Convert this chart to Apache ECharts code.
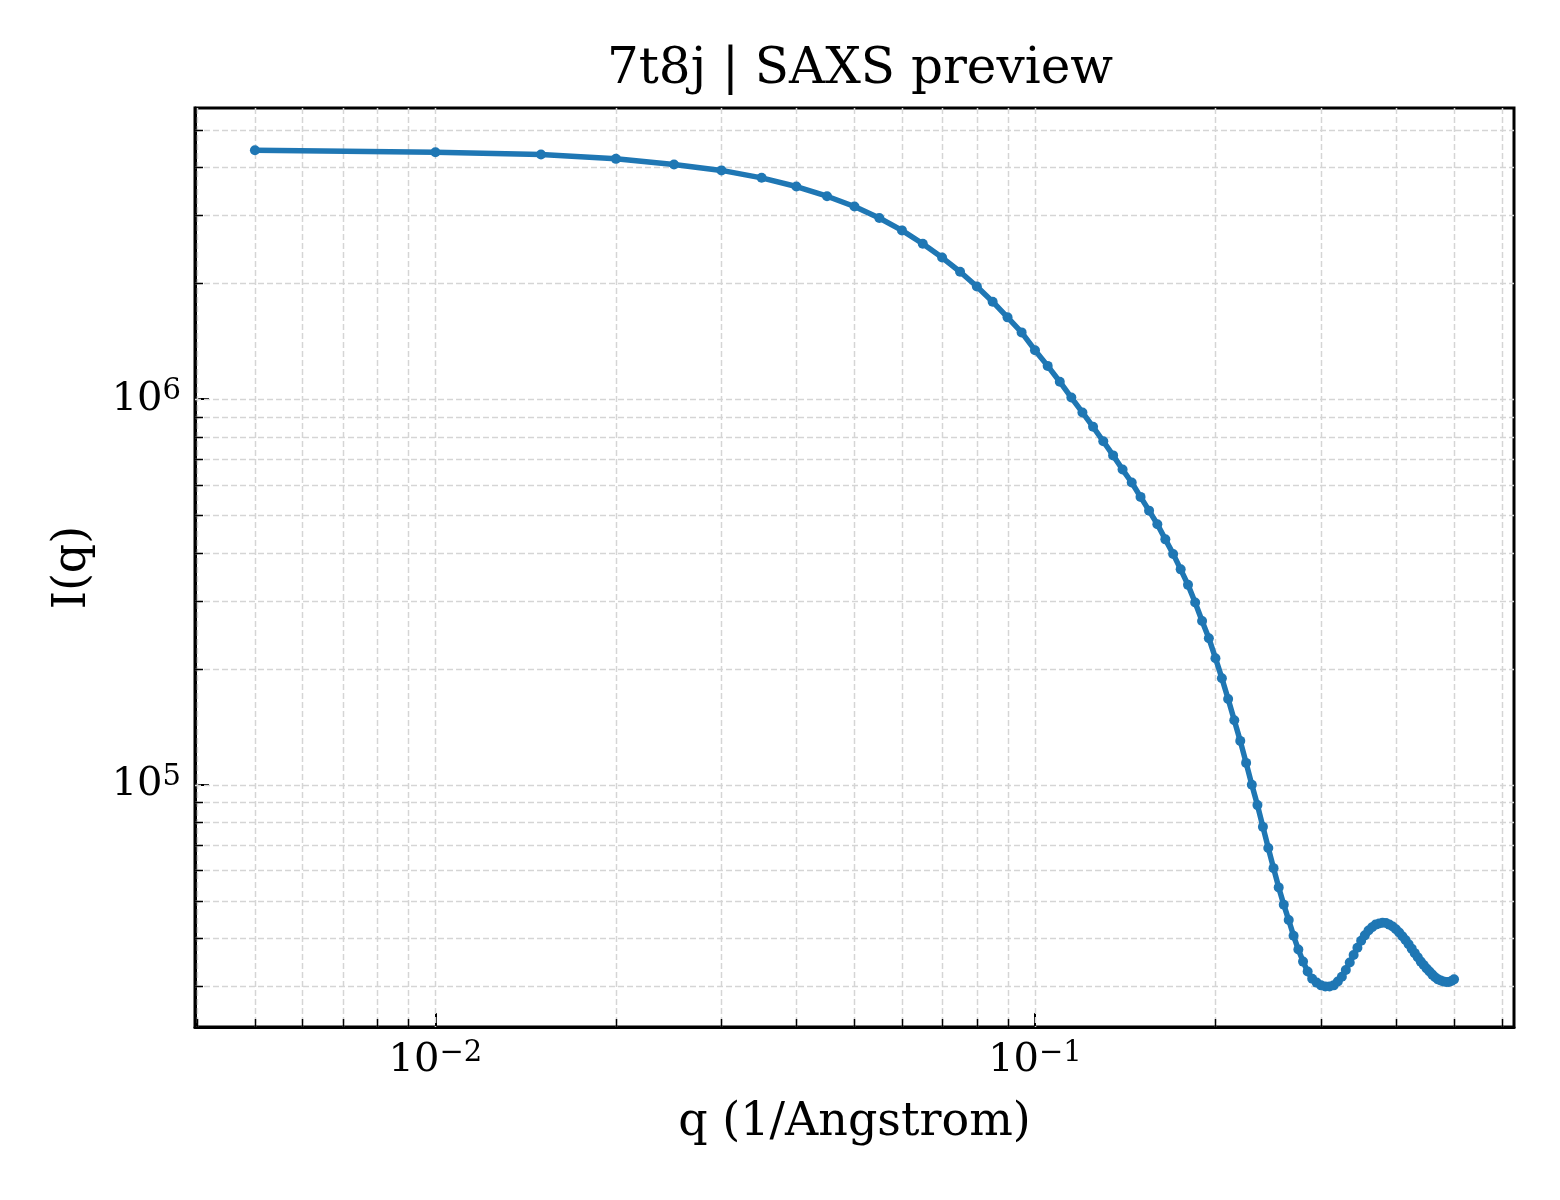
<!DOCTYPE html>
<html>
<head>
<meta charset="utf-8">
<script src="https://cdn.jsdelivr.net/npm/echarts@6/dist/echarts.min.js"></script>
<style>
html,body{margin:0;padding:0;background:#ffffff;}
#chart{width:1560px;height:1200px;}
</style>
</head>
<body>
<div id="chart"></div>
<script>
// ---- data ----
const qValues = [
  0.005, 0.010, 0.015, 0.020, 0.025, 0.030, 0.035, 0.040, 0.045, 0.050,
  0.055, 0.060, 0.065, 0.070, 0.075, 0.080, 0.085, 0.090, 0.095, 0.100,
  0.105, 0.110, 0.115, 0.120, 0.125, 0.130, 0.135, 0.140, 0.145, 0.150,
  0.155, 0.160, 0.165, 0.170, 0.175, 0.180, 0.185, 0.190, 0.195, 0.200,
  0.205, 0.210, 0.215, 0.220, 0.225, 0.230, 0.235, 0.240, 0.245, 0.250,
  0.255, 0.260, 0.265, 0.270, 0.275, 0.280, 0.285, 0.290, 0.295, 0.300,
  0.305, 0.310, 0.315, 0.320, 0.325, 0.330, 0.335, 0.340, 0.345, 0.350,
  0.355, 0.360, 0.365, 0.370, 0.375, 0.380, 0.385, 0.390, 0.395, 0.400,
  0.405, 0.410, 0.415, 0.420, 0.425, 0.430, 0.435, 0.440, 0.445, 0.450,
  0.455, 0.460, 0.465, 0.470, 0.475, 0.480, 0.485, 0.490, 0.495, 0.500
];
const intensity = [
  4.42e6, 4.37e6, 4.31e6, 4.20e6, 4.06e6, 3.92e6, 3.75e6, 3.56e6, 3.36e6, 3.16e6,
  2.95e6, 2.74e6, 2.53e6, 2.33e6, 2.14e6, 1.96e6, 1.79e6, 1.63e6, 1.49e6, 1.34e6,
  1.22e6, 1.11e6, 1.01e6, 9.24e5, 8.48e5, 7.78e5, 7.15e5, 6.57e5, 6.08e5, 5.58e5,
  5.14e5, 4.74e5, 4.33e5, 3.97e5, 3.62e5, 3.30e5, 2.97e5, 2.66e5, 2.40e5, 2.13e5,
  1.89e5, 1.67e5, 1.47e5, 1.30e5, 1.14e5, 1.00e5, 8.86e4, 7.78e4, 6.86e4, 6.08e4,
  5.42e4, 4.89e4, 4.46e4, 4.06e4, 3.74e4, 3.48e4, 3.28e4, 3.14e4, 3.07e4, 3.02e4,
  3.00e4, 3.00e4, 3.02e4, 3.09e4, 3.18e4, 3.31e4, 3.46e4, 3.62e4, 3.78e4, 3.94e4,
  4.07e4, 4.19e4, 4.27e4, 4.34e4, 4.37e4, 4.39e4, 4.38e4, 4.34e4, 4.29e4, 4.22e4,
  4.14e4, 4.05e4, 3.96e4, 3.86e4, 3.76e4, 3.66e4, 3.57e4, 3.48e4, 3.41e4, 3.34e4,
  3.28e4, 3.22e4, 3.17e4, 3.13e4, 3.11e4, 3.09e4, 3.08e4, 3.08e4, 3.10e4, 3.13e4
];
const xMajorTicks = [0.01, 0.1];
const xMinorTicks = [0.004, 0.005, 0.006, 0.007, 0.008, 0.009,
                     0.02, 0.03, 0.04, 0.05, 0.06, 0.07, 0.08, 0.09,
                     0.2, 0.3, 0.4, 0.5, 0.6];
const yMajorTicks = [1e5, 1e6];
const yMinorTicks = [3e4, 4e4, 5e4, 6e4, 7e4, 8e4, 9e4,
                     2e5, 3e5, 4e5, 5e5, 6e5, 7e5, 8e5, 9e5,
                     2e6, 3e6, 4e6, 5e6];
const xRange = [0.003972, 0.6295];
const yRange = [2.355e4, 5.69e6];
const titleText = '7t8j | SAXS preview';
const xLabel = 'q (1/Angstrom)';
const yLabel = 'I(q)';

// ---- styling ----
const FONT = 'DejaVu Serif';
const LINE_COLOR = '#1f77b4';
const GRID_COLOR = '#d5d5d5';

const seriesData = qValues.map((q, i) => [q, intensity[i]]);
const vLines = xMajorTicks.map(v => [v, yRange[0], 0]).concat(xMinorTicks.map(v => [v, yRange[0], 1]));
const hLines = yMajorTicks.map(v => [xRange[0], v, 0]).concat(yMinorTicks.map(v => [xRange[0], v, 1]));

function powLabel(v) {
  const e = Math.round(Math.log10(v));
  const s = e < 0 ? '\u2212' + (-e) : String(e);
  return '{b|10}{s|' + s + '}';
}
const richStyle = {
  b: { fontFamily: FONT, fontSize: 40, color: '#000', lineHeight: 44 },
  s: { fontFamily: FONT, fontSize: 29, color: '#000', verticalAlign: 'top', lineHeight: 30 }
};

function renderV(params, api) {
  const cs = params.coordSys;
  const p = api.coord([api.value(0), api.value(1)]);
  const x = Math.round(p[0]) + 0.5;
  const children = [{
    type: 'line', silent: true,
    shape: { x1: x, y1: cs.y, x2: x, y2: cs.y + cs.height },
    style: { stroke: GRID_COLOR, lineWidth: 1.5, lineDash: [6, 3] }
  }];
  if (api.value(2) === 1) {
    children.push({
      type: 'line', silent: true,
      shape: { x1: x, y1: cs.y + cs.height, x2: x, y2: cs.y + cs.height - 8 },
      style: { stroke: '#000', lineWidth: 1.5 }
    });
  }
  return { type: 'group', children: children };
}
function renderH(params, api) {
  const cs = params.coordSys;
  const p = api.coord([api.value(0), api.value(1)]);
  const y = Math.round(p[1]) + 0.5;
  const children = [{
    type: 'line', silent: true,
    shape: { x1: cs.x, y1: y, x2: cs.x + cs.width, y2: y },
    style: { stroke: GRID_COLOR, lineWidth: 1.5, lineDash: [6, 3] }
  }];
  if (api.value(2) === 1) {
    children.push({
      type: 'line', silent: true,
      shape: { x1: cs.x, y1: y, x2: cs.x + 8, y2: y },
      style: { stroke: '#000', lineWidth: 1.5 }
    });
  }
  return { type: 'group', children: children };
}

const chart = echarts.init(document.getElementById('chart'), null, { renderer: 'canvas' });
chart.setOption({
  backgroundColor: '#ffffff',
  animation: false,
  title: {
    text: titleText,
    left: 855,
    top: 40,
    textAlign: 'center',
    textStyle: { fontFamily: FONT, fontSize: 50, fontWeight: 'normal', color: '#000' }
  },
  grid: {
    left: 195, right: 46, top: 108, bottom: 173,
    show: true, borderColor: '#000', borderWidth: 3, backgroundColor: 'transparent'
  },
  xAxis: {
    type: 'log', logBase: 10,
    min: xRange[0], max: xRange[1],
    name: xLabel, nameLocation: 'middle', nameGap: 73,
    nameTextStyle: { fontFamily: FONT, fontSize: 46, color: '#000' },
    axisLine: { show: true, lineStyle: { color: '#000', width: 3 } },
    axisTick: { show: true, inside: true, length: 14, lineStyle: { color: '#000', width: 2 } },
    axisLabel: {
      margin: 12, showMinLabel: false, showMaxLabel: false,
      formatter: powLabel, rich: richStyle
    },
    splitLine: { show: false },
    minorTick: { show: false },
    minorSplitLine: { show: false }
  },
  yAxis: {
    type: 'log', logBase: 10,
    min: yRange[0], max: yRange[1],
    name: yLabel, nameLocation: 'middle', nameGap: 99, nameRotate: 90,
    nameTextStyle: { fontFamily: FONT, fontSize: 46, color: '#000' },
    axisLine: { show: true, lineStyle: { color: '#000', width: 3 } },
    axisTick: { show: true, inside: true, length: 14, lineStyle: { color: '#000', width: 2 } },
    axisLabel: {
      margin: 14, showMinLabel: false, showMaxLabel: false,
      formatter: powLabel, rich: richStyle
    },
    splitLine: { show: false },
    minorTick: { show: false },
    minorSplitLine: { show: false }
  },
  series: [
    {
      type: 'custom', name: 'vgrid', silent: true, z: 1,
      dimensions: ['x', 'y', 'minor'],
      encode: { x: 0, y: 1 },
      renderItem: renderV, data: vLines
    },
    {
      type: 'custom', name: 'hgrid', silent: true, z: 1,
      dimensions: ['x', 'y', 'minor'],
      encode: { x: 0, y: 1 },
      renderItem: renderH, data: hLines
    },
    {
      type: 'line', name: 'I(q)', z: 3,
      data: seriesData,
      showSymbol: true, symbol: 'circle', symbolSize: 10,
      lineStyle: { color: LINE_COLOR, width: 5.5 },
      itemStyle: { color: LINE_COLOR },
      emphasis: { disabled: true }
    }
  ]
});
</script>
</body>
</html>
